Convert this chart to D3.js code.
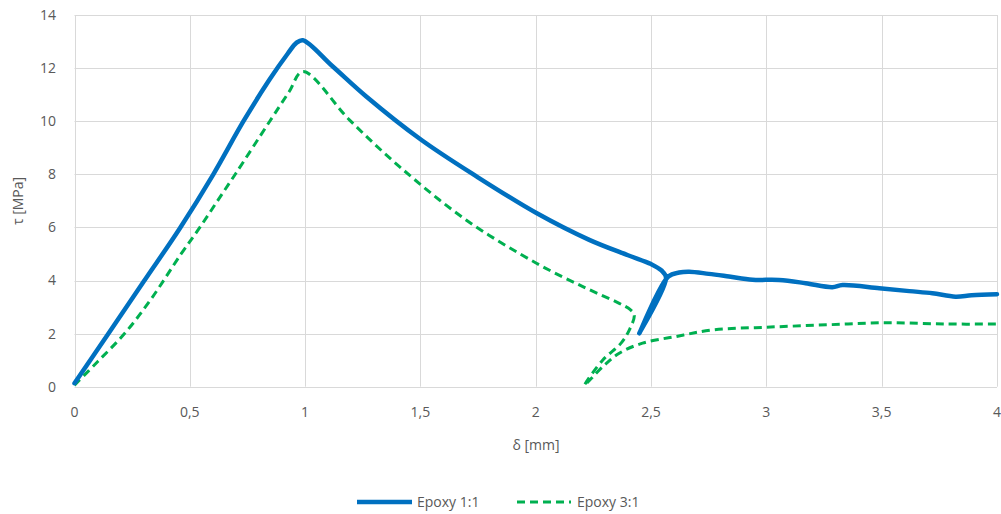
<!DOCTYPE html>
<html>
<head>
<meta charset="utf-8">
<script src="https://cdn.jsdelivr.net/npm/d3@7"></script>
<style>
  html, body { margin: 0; padding: 0; background: #fff; }
  svg { display: block; }
  text { font-family: "Open Sans", "Liberation Sans", sans-serif; fill: #595959; }
</style>
</head>
<body>
<svg id="chart" width="1001" height="514"></svg>
<script>
// ---- data ----
const xTicks = [0, 0.5, 1, 1.5, 2, 2.5, 3, 3.5, 4];
const xTickLabels = ["0", "0,5", "1", "1,5", "2", "2,5", "3", "3,5", "4"];
const yTicks = [0, 2, 4, 6, 8, 10, 12, 14];

const seriesNames = ["Epoxy 1:1", "Epoxy 3:1"];

const blueX = [0, 0.148, 0.30, 0.457, 0.602, 0.732, 0.845, 0.925, 0.962, 0.99, 1.12, 1.265, 1.503, 1.743, 2.003, 2.232, 2.40, 2.50, 2.545, 2.565, 2.449, 2.575, 2.622, 2.665, 2.75, 2.838, 2.94, 3.055, 3.17, 3.286, 3.33, 3.49, 3.62, 3.72, 3.82, 3.89, 4.0];
const blueY = [0.13, 2.01, 3.96, 5.97, 8.0, 9.99, 11.56, 12.55, 12.95, 13.05, 12.06, 10.93, 9.3, 7.92, 6.54, 5.53, 4.95, 4.62, 4.38, 4.1, 2.01, 4.15, 4.3, 4.33, 4.25, 4.15, 4.03, 4.02, 3.9, 3.75, 3.83, 3.71, 3.6, 3.52, 3.39, 3.44, 3.48];

const greenX = [0, 0.101, 0.217, 0.332, 0.462, 0.542, 0.62, 0.70, 0.846, 0.93, 0.99, 1.192, 1.409, 1.698, 2.003, 2.204, 2.362, 2.41, 2.427, 2.406, 2.37, 2.29, 2.211, 2.29, 2.362, 2.463, 2.608, 2.767, 3.0, 3.26, 3.52, 3.78, 4.0];
const greenY = [0.06, 0.95, 2.0, 3.3, 5.0, 5.98, 7.0, 8.04, 9.99, 11.1, 11.87, 10.05, 8.29, 6.28, 4.65, 3.77, 3.14, 2.9, 2.7, 2.14, 1.64, 1.0, 0.05, 0.75, 1.26, 1.64, 1.89, 2.14, 2.24, 2.33, 2.41, 2.36, 2.36];

(function () {
// ---- layout ----
const svg = d3.select("#chart");
const pLeft = 74.5, pRight = 997, pTop = 15, pBottom = 386.7;

const x = d3.scaleLinear().domain([0, 4]).range([pLeft, pRight]);
const y = d3.scaleLinear().domain([0, 14]).range([pBottom, pTop]);

// gridlines
svg.append("g").selectAll("line").data(yTicks).join("line")
  .attr("x1", pLeft).attr("x2", pRight)
  .attr("y1", d => Math.round(y(d)) + 0.5).attr("y2", d => Math.round(y(d)) + 0.5)
  .attr("stroke", "#d9d9d9").attr("stroke-width", 1);
svg.append("g").selectAll("line").data(xTicks).join("line")
  .attr("y1", pTop).attr("y2", pBottom)
  .attr("x1", d => Math.round(x(d)) + 0.5).attr("x2", d => Math.round(x(d)) + 0.5)
  .attr("stroke", "#d9d9d9").attr("stroke-width", 1);

// tick labels
svg.append("g").selectAll("text").data(yTicks).join("text")
  .attr("x", 56).attr("y", d => y(d)).attr("dy", "0.35em")
  .attr("text-anchor", "end").attr("font-size", 14)
  .text(d => d);
svg.append("g").selectAll("text").data(xTicks).join("text")
  .attr("x", d => x(d)).attr("y", 412).attr("dy", "0.35em")
  .attr("text-anchor", "middle").attr("font-size", 14)
  .text((d, i) => xTickLabels[i]);

// axis titles
svg.append("text").attr("x", 536).attr("y", 445).attr("dy", "0.35em")
  .attr("text-anchor", "middle").attr("font-size", 14)
  .text("δ [mm]");
svg.append("text").attr("transform", "translate(18,201) rotate(-90)")
  .attr("dy", "0.35em").attr("text-anchor", "middle").attr("font-size", 14)
  .text("τ [MPa]");

// lines
const line = d3.line().x(d => x(d[0])).y(d => y(d[1])).curve(d3.curveCatmullRom.alpha(0.5));
const blueData = blueX.map((v, i) => [v, blueY[i]]);
const greenData = greenX.map((v, i) => [v, greenY[i]]);

svg.append("path").datum(greenData).attr("d", line)
  .attr("fill", "none").attr("stroke", "#00b050").attr("stroke-width", 3)
  .attr("stroke-dasharray", "8,5").attr("stroke-linejoin", "round");
svg.append("path").datum(blueData).attr("d", line)
  .attr("fill", "none").attr("stroke", "#0070c0").attr("stroke-width", 4.5)
  .attr("stroke-linejoin", "round").attr("stroke-linecap", "round");

// legend
const leg = svg.append("g");
leg.append("line").attr("x1", 357).attr("x2", 412).attr("y1", 502).attr("y2", 502)
  .attr("stroke", "#0070c0").attr("stroke-width", 4.5);
leg.append("text").attr("x", 417).attr("y", 502).attr("dy", "0.35em").attr("font-size", 14).text(seriesNames[0]);
leg.append("line").attr("x1", 517).attr("x2", 571).attr("y1", 502).attr("y2", 502)
  .attr("stroke", "#00b050").attr("stroke-width", 3).attr("stroke-dasharray", "8,5");
leg.append("text").attr("x", 577).attr("y", 502).attr("dy", "0.35em").attr("font-size", 14).text(seriesNames[1]);
})();
</script>
</body>
</html>
